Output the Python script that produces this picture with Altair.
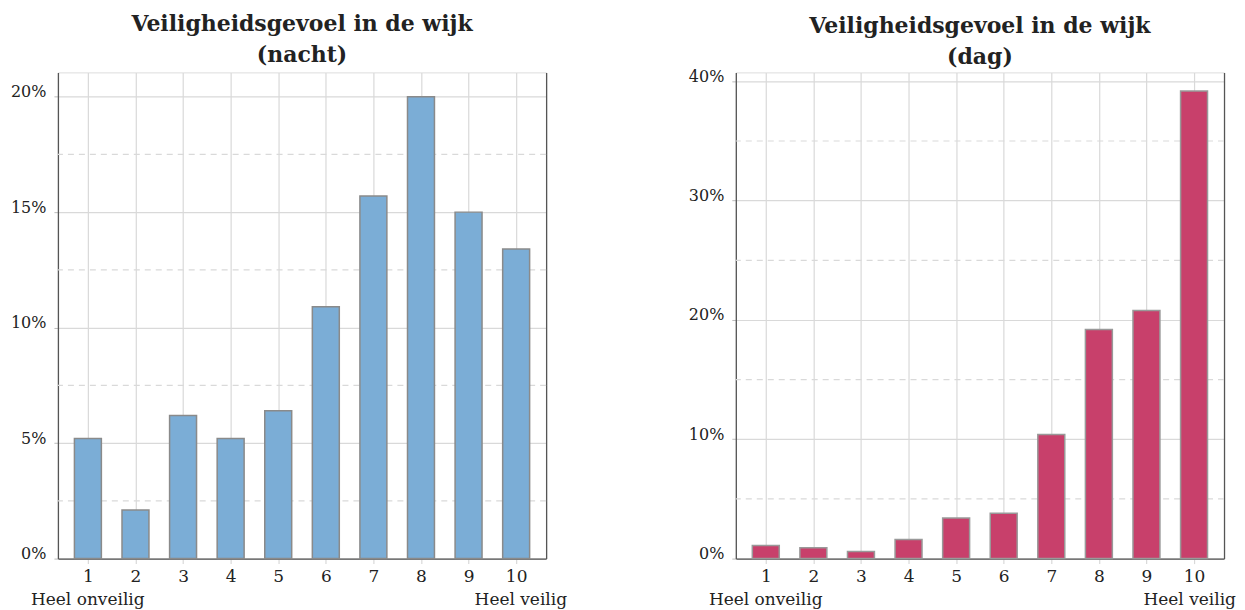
import altair as alt
import pandas as pd

scores = [str(i) for i in range(1, 11)]
nacht = [5.2, 2.1, 6.2, 5.2, 6.4, 10.9, 15.7, 20.0, 15.0, 13.4]
dag = [1.1, 0.9, 0.6, 1.6, 3.4, 3.8, 10.4, 19.2, 20.8, 39.2]
nacht_ticks = [0, 5, 10, 15, 20]
nacht_minor = [2.5, 7.5, 12.5, 17.5]
dag_ticks = [0, 10, 20, 30, 40]
dag_minor = [5, 15, 25, 35]
end_labels = ["Heel onveilig", "Heel veilig"]
title_nacht = ["Veiligheidsgevoel in de wijk", "(nacht)"]
title_dag = ["Veiligheidsgevoel in de wijk", "(dag)"]

W, H = 489, 487
FONT = "DejaVu Serif"
GRID = "#d9d9d9"
AXIS = "#555555"


def panel(values, ticks, minor, ymax, fill, stroke, title, toff, rdx):
    df = pd.DataFrame({"score": scores, "pct": values})
    yscale = alt.Scale(domain=[0, ymax], nice=False, zero=True)
    xenc = alt.X(
        "score:O", sort=scores,
        scale=alt.Scale(type="point", padding=0.63),
        axis=alt.Axis(title=None, labelAngle=0, grid=True, gridColor=GRID,
                      gridWidth=1.2, domainColor=AXIS, domainWidth=1.3,
                      tickColor=GRID, tickSize=5, tickWidth=1.2,
                      labelFont=FONT, labelFontSize=17, labelColor="#222",
                      labelPadding=5),
    )
    minor_df = pd.DataFrame({"m": minor})
    dashes = alt.Chart(minor_df).mark_rule(
        color=GRID, strokeDash=[6, 5], strokeWidth=1.2
    ).encode(
        y=alt.Y("m:Q", scale=yscale,
                axis=alt.Axis(orient="right", labels=False, ticks=False,
                              grid=False, domain=True, domainColor=AXIS,
                              domainWidth=1.3, title=None))
    )
    bars = alt.Chart(df).mark_bar(
        size=27, fill=fill, stroke=stroke, strokeWidth=1.5
    ).encode(
        x=xenc,
        y=alt.Y("pct:Q", scale=yscale,
                axis=alt.Axis(orient="left", title=None, values=ticks,
                              labelExpr="datum.value + '%'", grid=True,
                              gridColor=GRID, gridWidth=1.2,
                              domainColor=AXIS, domainWidth=1.3,
                              tickColor="#bbbbbb", tickSize=4,
                              labelFont=FONT, labelFontSize=16,
                              labelColor="#222", labelPadding=8,
                              labelBaseline="alphabetic")),
    )
    left_df = pd.DataFrame({"score": [scores[0]], "t": [end_labels[0]]})
    right_df = pd.DataFrame({"score": [scores[-1]], "t": [end_labels[1]]})
    txt_left = alt.Chart(left_df).mark_text(
        align="left", baseline="alphabetic", dx=-57, dy=46,
        font=FONT, fontSize=17, color="#222"
    ).encode(x=alt.X("score:O", sort=scores), y=alt.value(H), text="t:N")
    txt_right = alt.Chart(right_df).mark_text(
        align="right", baseline="alphabetic", dx=rdx, dy=46,
        font=FONT, fontSize=17, color="#222"
    ).encode(x=alt.X("score:O", sort=scores), y=alt.value(H), text="t:N")
    return alt.layer(dashes, bars, txt_left, txt_right).resolve_axis(
        y="independent"
    ).properties(
        width=W, height=H,
        title=alt.TitleParams(text=title, font=FONT, fontSize=22,
                              fontWeight="bold", color="#222",
                              lineHeight=31, anchor="middle", offset=toff),
    )


left = panel(nacht, nacht_ticks, nacht_minor, 21.05, "#7badd6", "#8a8a8a",
             title_nacht, 5, 51)
right = panel(dag, dag_ticks, dag_minor, 40.75, "#c8406b", "#999999",
              title_dag, -1, 42)

chart = alt.hconcat(left, right, spacing=119).configure_view(stroke=None).configure(
    padding={"left": 1, "top": 4, "right": 0, "bottom": 0}
)

chart.save("out.html", embed_options={"renderer": "svg", "actions": False})
